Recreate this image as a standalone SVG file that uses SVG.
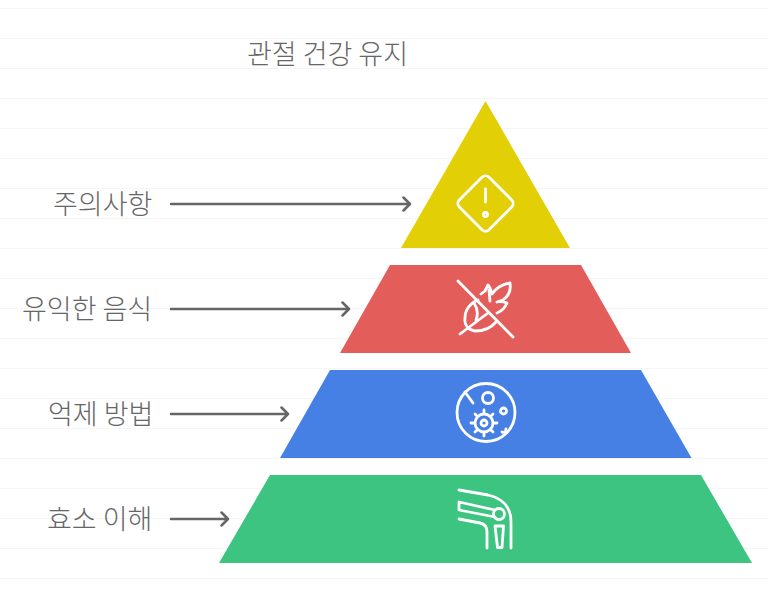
<svg xmlns="http://www.w3.org/2000/svg" width="768" height="591" viewBox="0 0 768 591">
<style>
.t{font-family:"Noto Sans CJK KR","Noto Sans",sans-serif;font-size:27px;font-weight:300;fill:#666666}
.c{fill:none;stroke:#666666;stroke-width:2.500;stroke-linecap:round;stroke-linejoin:round}
.i{fill:none;stroke:#ffffff;stroke-width:2.800;stroke-linecap:round;stroke-linejoin:round}
.g{stroke:#f5f5f5;stroke-width:1}
</style>
<rect width="768" height="591" fill="#ffffff"/>
<g id="grid">
<path class="g" d="M0 8.500H768M0 38.500H768M0 68.500H768M0 98.500H768M0 128.500H768M0 158.500H768M0 188.500H768M0 218.500H768M0 248.500H768M0 278.500H768M0 308.500H768M0 338.500H768M0 368.500H768M0 398.500H768M0 428.500H768M0 458.500H768M0 488.500H768M0 518.500H768M0 548.500H768M0 578.500H768"/>
</g>
<text id="title" class="t" x="247" y="64">관절 건강 유지</text>
<g id="node-1">
<polygon points="485.500,101 570,248 401,248" fill="#e2cf06"/>
<rect class="i" x="464.500" y="182.500" width="42" height="42" rx="5" transform="rotate(45 485.500 203.500)"/>
<path class="i" d="M485.500 189V202"/>
<circle class="i" cx="485.500" cy="214.500" r="2"/>
<text class="t" x="53" y="214">주의사항</text>
</g>
<g id="node-2">
<polygon points="390,265 581,265 631,353 340,353" fill="#e35d5b"/>
<path class="i" d="M458 281L513 337"/>
<path class="i" d="M460 334L488 313M478 300C470 303 465 310 465 318C464 325 468 330 475 331C483 331 491 328 496 322M474 303C478 309 478 315 476 320M481 294L485 291L488 285C490 287 491 290 492 294C495 289 502 284 510 283C511 290 509 296 503 300L497 302C501 301 504 302 507 303C505 308 502 311 497 313M489 290L490 301"/>
<text class="t" x="22" y="319">유익한 음식</text>
</g>
<g id="node-3">
<polygon points="330,370 641,370 691.500,458 280,458" fill="#4680e4"/>
<circle class="i" cx="486" cy="412.500" r="29"/>
<path class="i" d="M465 392L473 403"/>
<circle class="i" cx="488" cy="398" r="5.500"/>
<circle class="i" cx="503.500" cy="411" r="3"/>
<path class="i" d="M502 432C504 433 506 432 506 429"/>
<circle class="i" cx="484" cy="423" r="9"/>
<circle class="i" cx="484" cy="423" r="3"/>
<path class="i" d="M484 410V413M484 433V436M471 423H474M494 423H497M475 414L477 416M491 430L493 432M475 432L477 430M491 416L493 414"/>
<text class="t" x="48" y="424">억제 방법</text>
</g>
<g id="node-4">
<polygon points="270,475 701,475 752,563 219,563" fill="#3dc481"/>
<path class="i" d="M459 490L488 495C502 498 511 507 511 522V548"/>
<path class="i" d="M495 510L459 502V510L495 517"/>
<circle class="i" cx="499" cy="514" r="5.500"/>
<path class="i" d="M459 519L480 523C485 524 487 527 487 532V548"/>
<path class="i" d="M495 526H503.500L502 547.500H497.500Z"/>
<text class="t" x="47" y="529">효소 이해</text>
</g>
<g id="connectors">
<path class="c" d="M171 204H409M403.500 197.500L410 204L403.500 210.500"/>
<path class="c" d="M171 309H348M342.500 302.500L349 309L342.500 315.500"/>
<path class="c" d="M171 414H287M281.500 407.500L288 414L281.500 420.500"/>
<path class="c" d="M171 519H227M221.500 512.500L228 519L221.500 525.500"/>
</g>
</svg>
